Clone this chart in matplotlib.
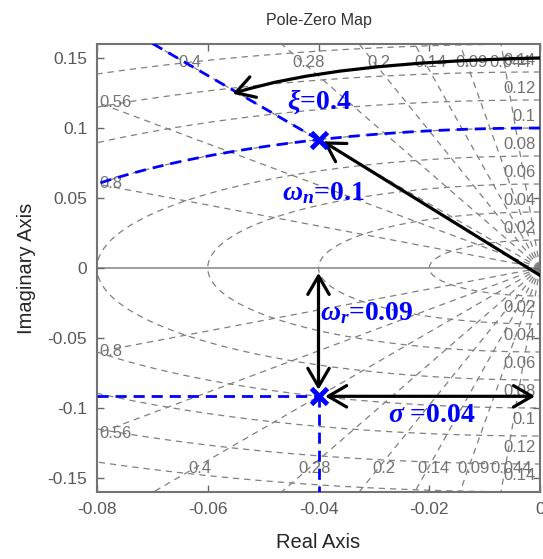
import numpy as np
import matplotlib
matplotlib.use("Agg")
import matplotlib.pyplot as plt
from matplotlib.patches import FancyArrowPatch
from matplotlib.path import Path

plt.rcParams['font.family'] = ['Liberation Sans', 'DejaVu Sans']
plt.rcParams['mathtext.fontset'] = 'custom'
plt.rcParams['mathtext.it'] = 'Liberation Serif:italic:bold'
plt.rcParams['mathtext.rm'] = 'Liberation Serif:bold'
plt.rcParams['mathtext.bf'] = 'Liberation Serif:bold'

# ---- data ----
zeta_grid = [0.044, 0.09, 0.14, 0.2, 0.28, 0.4, 0.56, 0.8]
zeta_top_labels = ["0.044", "0.09", "0.14", "0.2", "0.28", "0.4"]
zeta_left_labels = ["0.56", "0.8"]
wn_grid = [0.02, 0.04, 0.06, 0.08, 0.10, 0.12, 0.14, 0.16, 0.18]
wn_labels = [0.02, 0.04, 0.06, 0.08, 0.10, 0.12, 0.14]
pole_zeta = 0.4
pole_wn = 0.1
sigma = 0.04
wd = pole_wn * np.sqrt(1 - pole_zeta ** 2)
xticks = [-0.08, -0.06, -0.04, -0.02, 0]
yticks = [-0.15, -0.1, -0.05, 0, 0.05, 0.1, 0.15]
xlim = (-0.08, 0.0)
ylim = (-0.16, 0.16)

fig = plt.figure(figsize=(5.43, 5.59), dpi=100)
ax = fig.add_axes([97 / 543, 1 - 492 / 559, 443 / 543, 448 / 559])
ax.set_xlim(*xlim)
ax.set_ylim(*ylim)

gcol = (0.5, 0.5, 0.5)
lcol = (0.45, 0.45, 0.45)
dash = (0, (5, 4))

# zeta lines
for z in zeta_grid:
    s = np.sqrt(1 - z ** 2)
    for sign in (1, -1):
        ax.plot([0, -z], [0, sign * s], color=gcol, lw=0.9, ls=dash, zorder=1)

# wn circles
th = np.linspace(np.pi / 2, 3 * np.pi / 2, 600)
for w in wn_grid:
    ax.plot(w * np.cos(th), w * np.sin(th), color=gcol, lw=0.9, ls=dash, zorder=1)

# real axis
ax.axhline(0, color=(0.55, 0.55, 0.55), lw=1.2, zorder=1)

# zeta labels top/bottom
for lab in zeta_top_labels:
    z = float(lab)
    k = z / np.sqrt(1 - z ** 2)
    ax.text(-0.147 * k + 0.001, 0.147, lab, color=lcol, fontsize=12,
            ha='center', va='center', zorder=2)
    ax.text(-0.143 * k + 0.001, -0.143, lab, color=lcol, fontsize=12,
            ha='center', va='center', zorder=2)
for lab in zeta_left_labels:
    z = float(lab)
    k = np.sqrt(1 - z ** 2) / z
    ax.text(-0.0795, 0.08 * k, lab, color=lcol, fontsize=12,
            ha='left', va='center', zorder=2)
    ax.text(-0.0795, -0.08 * k, lab, color=lcol, fontsize=12,
            ha='left', va='center', zorder=2)
# wn labels on right
for w in wn_labels:
    ax.text(-0.0008, w + 0.008, f"{w:g}", color=lcol, fontsize=12,
            ha='right', va='center', zorder=2)
    ax.text(-0.0008, -(w + 0.008), f"{w:g}", color=lcol, fontsize=12,
            ha='right', va='center', zorder=2)

# blue construction lines
blue = (0, 0, 1)
bdash = (0, (4, 2.5))
ax.plot([-sigma, -pole_zeta], [wd, np.sqrt(1 - pole_zeta ** 2)], color=blue, lw=2, ls=bdash, zorder=3)
thb = np.linspace(np.pi / 2, np.pi, 400)
ax.plot(pole_wn * np.cos(thb), pole_wn * np.sin(thb), color=blue, lw=2, ls=bdash, zorder=3)
ax.plot([xlim[0], -sigma], [-wd, -wd], color=blue, lw=2, ls=bdash, zorder=3)
ax.plot([-sigma, -sigma], [-wd, ylim[0]], color=blue, lw=2, ls=bdash, zorder=3)

# poles
ax.plot([-sigma, -sigma], [wd, -wd], ls='none', marker='x', ms=11, mew=3.5,
        color=blue, zorder=6)

# arrows
def add_arrow(a, style):
    a.set_arrowstyle(style, head_length=0.6, head_width=0.35)
    ax.add_patch(a)

def arrow(p0, p1, style='->'):
    a = FancyArrowPatch(p0, p1, mutation_scale=22, lw=2.3, color='black',
                        shrinkA=0, shrinkB=0, zorder=5)
    add_arrow(a, style)

curve = Path([(0.0, 0.150), (-0.0379, 0.147), (-0.0555, 0.1245)],
             [Path.MOVETO, Path.CURVE3, Path.CURVE3])
add_arrow(FancyArrowPatch(path=curve, mutation_scale=22, lw=2.3, color='black',
                          zorder=5), '->')
arrow((0.0003, -0.006), (-0.0392, 0.0905), '->')
arrow((-sigma, -0.0035), (-sigma, -0.087), '<->')
arrow((-0.0388, -wd), (-0.0009, -wd), '<->')

# annotation texts
tkw = dict(color=blue, fontsize=20, family='Liberation Serif', weight='bold',
           ha='left', va='center', zorder=7)
ax.text(-0.0457, 0.1186, r'$\xi$=0.4', **tkw)
ax.text(-0.0466, 0.0536, r'$\omega_n$=0.1', **tkw)
ax.text(-0.0397, -0.032, r'$\omega_r$=0.09', **tkw)
ax.text(-0.0275, -0.105, r'$\sigma$ =0.04', **tkw)

# axes styling
ax.set_xticks(xticks)
ax.set_xticklabels(["-0.08", "-0.06", "-0.04", "-0.02", "0"])
ax.set_yticks(yticks)
ax.set_yticklabels(["-0.15", "-0.1", "-0.05", "0", "0.05", "0.1", "0.15"])
ax.tick_params(direction='in', length=5, width=1, colors=(0.4, 0.4, 0.4),
               labelcolor=(0.35, 0.35, 0.35), labelsize=12.5,
               top=True, right=True, pad=7)
for sp in ax.spines.values():
    sp.set_color((0.45, 0.45, 0.45))
    sp.set_linewidth(1.5)

ax.set_title("Pole-Zero Map", fontsize=11.5, color=(0.2, 0.2, 0.2), pad=14)
ax.set_xlabel("Real Axis", fontsize=14.5, color=(0.15, 0.15, 0.15), labelpad=12)
ax.set_ylabel("Imaginary Axis", fontsize=14.5, color=(0.15, 0.15, 0.15), labelpad=8)

fig.savefig("out.png", dpi=100)
